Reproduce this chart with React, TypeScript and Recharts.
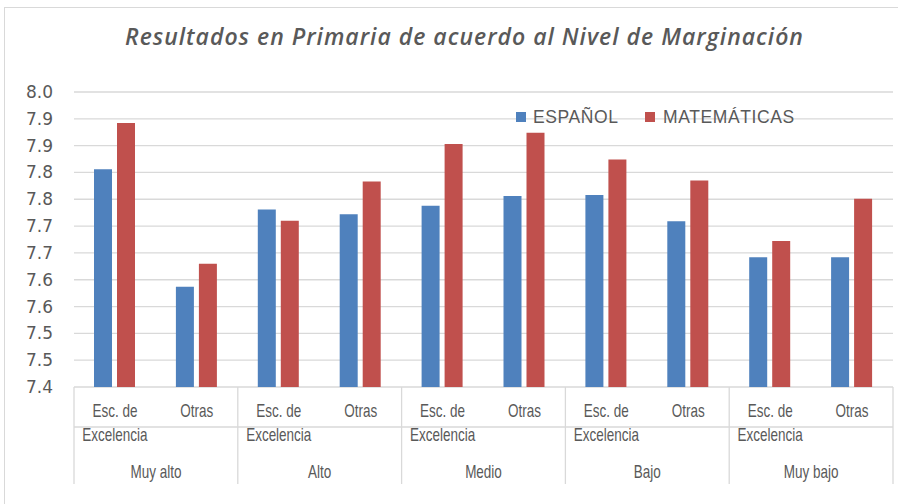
import React from 'react';
import { BarChart, Bar, XAxis, YAxis, CartesianGrid, Legend } from 'recharts';

const groups = ['Muy alto', 'Alto', 'Medio', 'Bajo', 'Muy bajo'];
const subcats = ['Esc. de Excelencia', 'Otras'];
const espanol = [7.806, 7.587, 7.731, 7.722, 7.738, 7.756, 7.758, 7.709, 7.642, 7.642];
const matematicas = [7.892, 7.63, 7.71, 7.783, 7.853, 7.874, 7.824, 7.785, 7.672, 7.751];
const yTicks = [7.4, 7.45, 7.5, 7.55, 7.6, 7.65, 7.7, 7.75, 7.8, 7.85, 7.9, 7.95];
const yTickLabels = ['7.4', '7.5', '7.5', '7.6', '7.6', '7.7', '7.7', '7.8', '7.8', '7.9', '7.9', '8.0'];
const seriesNames = ['ESPAÑOL', 'MATEMÁTICAS'];
const seriesColors = ['#4F81BD', '#C0504D'];
const title = 'Resultados en Primaria de acuerdo al Nivel de Marginación';

const data = groups.flatMap((g, gi) =>
  subcats.map((s, si) => ({
    group: g,
    sub: s,
    es: espanol[gi * 2 + si],
    mat: matematicas[gi * 2 + si],
  }))
);

const W = 898;
const H = 504;
const M = { top: 92, right: 5, bottom: 17, left: 0 };
const Y_W = 74;
const H1 = 60;
const H2 = 40;
const PLOT_BOTTOM = H - M.bottom - H1 - H2;
const PLOT_LEFT = M.left + Y_W;
const PLOT_RIGHT = W - M.right;
const GROUP_BW = (PLOT_RIGHT - PLOT_LEFT) / groups.length;
const TEXT = '#595959';
const GRID = '#d9d9d9';
const LABEL_FONT = '"Liberation Sans", Arial, sans-serif';

const SubTick = (props: any) => {
  const { x, payload } = props;
  const lines = String(payload.value) === 'Otras' ? ['Otras'] : ['Esc. de', 'Excelencia'];
  return (
    <g>
      {lines.map((l, i) => (
        <text
          key={i}
          transform={`translate(${x}, ${PLOT_BOTTOM + 30 + i * 24}) scale(0.75, 1)`}
          textAnchor="middle"
          fontFamily={LABEL_FONT}
          fontSize={18}
          fill={TEXT}
        >
          {l}
        </text>
      ))}
    </g>
  );
};

const GroupTick = (props: any) => {
  const { x, payload, index } = props;
  const left = x - GROUP_BW / 2;
  const right = x + GROUP_BW / 2;
  return (
    <g>
      <line x1={left} x2={left} y1={PLOT_BOTTOM} y2={PLOT_BOTTOM + 97} stroke={GRID} strokeWidth={1.3} />
      {index === groups.length - 1 && (
        <line x1={right} x2={right} y1={PLOT_BOTTOM} y2={PLOT_BOTTOM + 97} stroke={GRID} strokeWidth={1.3} />
      )}
      <text
        transform={`translate(${x}, ${PLOT_BOTTOM + 91}) scale(0.75, 1)`}
        textAnchor="middle"
        fontFamily={LABEL_FONT}
        fontSize={18}
        fill={TEXT}
      >
        {payload.value}
      </text>
    </g>
  );
};

const legendPos = [
  { sq: 516, tx: 533 },
  { sq: 645, tx: 663 },
];

const LegendContent = (props: any) => {
  const payload = props.payload || [];
  return (
    <div style={{ position: 'absolute', left: 0, top: 0, width: 0, height: 0 }}>
      {payload.map((p: any, i: number) => (
        <React.Fragment key={i}>
          <div
            style={{
              position: 'absolute',
              left: legendPos[i].sq,
              top: 112,
              width: 10,
              height: 10,
              background: p.color,
            }}
          />
          <div
            style={{
              position: 'absolute',
              left: legendPos[i].tx,
              top: 106,
              fontFamily: LABEL_FONT,
              fontSize: 17.5,
              lineHeight: '22px',
              letterSpacing: 0.6,
              color: TEXT,
              whiteSpace: 'nowrap',
            }}
          >
            {p.value}
          </div>
        </React.Fragment>
      ))}
    </div>
  );
};

export default function App() {
  return (
    <div style={{ position: 'absolute', left: 0, top: 0, width: W, height: H, background: '#fff', overflow: 'hidden' }}>
      <div
        style={{
          position: 'absolute',
          left: 4,
          top: 7,
          width: 910,
          height: 520,
          border: `1.5px solid ${GRID}`,
          boxSizing: 'border-box',
        }}
      />
      <div
        style={{
          position: 'absolute',
          left: 0,
          top: 22,
          width: 929,
          textAlign: 'center',
          fontFamily: '"Open Sans", sans-serif',
          fontStyle: 'italic',
          fontWeight: 600,
          fontSize: 23,
          letterSpacing: 1,
          lineHeight: '28px',
          color: TEXT,
          whiteSpace: 'nowrap',
        }}
      >
        {title}
      </div>
      <BarChart width={W} height={H} data={data} margin={M} barGap={5} style={{ position: 'absolute', left: 0, top: 0 }}>
        <CartesianGrid vertical={false} stroke={GRID} strokeWidth={1.3} />
        <YAxis
          type="number"
          domain={[7.4, 7.95]}
          ticks={yTicks}
          interval={0}
          width={Y_W}
          axisLine={false}
          tickLine={false}
          tickSize={0}
          tickMargin={21}
          tickFormatter={(v: number, i: number) => yTickLabels[i]}
          tick={{ fill: TEXT, fontSize: 17, fontFamily: '"DejaVu Sans", sans-serif' }}
        />
        <XAxis
          xAxisId="sub"
          dataKey="sub"
          interval={0}
          height={H1}
          axisLine={{ stroke: GRID, strokeWidth: 1.3 }}
          tickLine={false}
          tick={<SubTick />}
        />
        <XAxis
          xAxisId="group"
          dataKey="group"
          allowDuplicatedCategory={false}
          interval={0}
          height={H2}
          axisLine={false}
          tickLine={false}
          tick={<GroupTick />}
        />
        <Legend
          layout="horizontal"
          verticalAlign="middle"
          align="center"
          content={<LegendContent />}
          wrapperStyle={{ position: 'absolute', left: 0, top: 0, width: 0, height: 0 }}
        />
        <Bar xAxisId="sub" dataKey="es" name={seriesNames[0]} fill={seriesColors[0]} barSize={18} isAnimationActive={false} />
        <Bar xAxisId="sub" dataKey="mat" name={seriesNames[1]} fill={seriesColors[1]} barSize={18} isAnimationActive={false} />
      </BarChart>
    </div>
  );
}
